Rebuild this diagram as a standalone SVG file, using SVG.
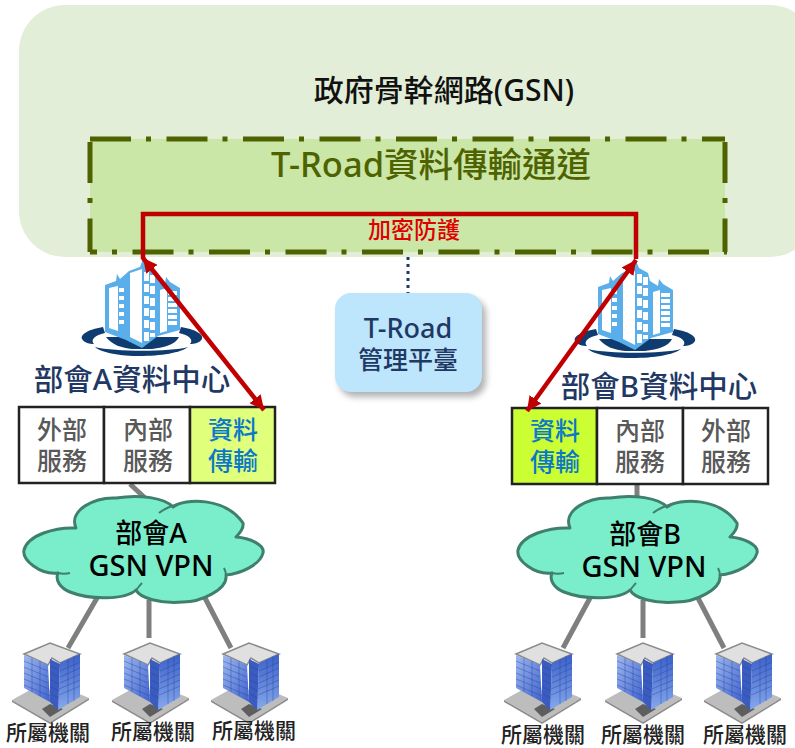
<svg xmlns="http://www.w3.org/2000/svg" xmlns:xlink="http://www.w3.org/1999/xlink" width="795" height="748" viewBox="0 0 795 748">
<style>
text{font-family:"Noto Sans","Noto Sans CJK TC",sans-serif;text-anchor:middle}
.cell{fill:#fff;stroke:#222;stroke-width:2.5}
.svc{font-size:25px;fill:#595959;font-weight:500}
.dx{font-size:25px;fill:#0b78c8;font-weight:500}
.dc{font-size:29.5px;fill:#1f3864;font-weight:500}
.cl{fill:#000;font-weight:500}
.cl1{font-size:27px}
.cl2{font-size:29px}
.org{font-size:21px;fill:#222;font-weight:500}
.gray{stroke:#7f7f7f;stroke-width:5;fill:none}
.red{stroke:#c00000;stroke-width:4.5;fill:none}
.dash{stroke:#4f6200;stroke-width:5;fill:none;stroke-dasharray:41 15 5 15.5}
</style>
<defs>
<marker id="ah" viewBox="0 0 6 6" markerWidth="3.2" markerHeight="3.2" refX="6" refY="3" orient="auto-start-reverse"><path d="M0,0L6,3L0,6Z" fill="#c00000"/></marker>
<filter id="sh" x="-20%" y="-20%" width="140%" height="140%"><feGaussianBlur stdDeviation="3"/></filter>
<linearGradient id="fl" x1="0" y1="0" x2="1" y2="1"><stop offset="0" stop-color="#9db8f0"/><stop offset="1" stop-color="#3f62cc"/></linearGradient>
<linearGradient id="fr" x1="0" y1="0" x2="0" y2="1"><stop offset="0" stop-color="#3a60c8"/><stop offset="1" stop-color="#86a8ec"/></linearGradient>
<g id="cloudp">
<path fill="#7aedca" stroke="#3f7f6b" stroke-width="3" stroke-linejoin="round" d="M76,528C68,510 95,497 116,498C140,494 165,498 173,507C185,498 225,497 243,523C244,528 240,533 236,537C250,538 265,545 263,553C260,565 240,574 226,575C228,590 200,602 183,602C160,604 140,598 136,590C125,600 90,600 70,592C60,588 55,580 58,573C40,575 22,560 24,550C28,535 55,527 76,528Z"/>
<path fill="none" stroke="#3f7f6b" stroke-width="2" d="M159,513C165,508 172,506 178,504M136,590C138,588 140,585 142,583M58,573C62,574 66,574 70,573M226,575C226,573 225,570 224,568"/>
</g>
<g id="dcicon">
<path d="M103,327C90,329 80,334 82,339C84,343 90,344 94,344C90,340 95,335 105,333ZM181,327C194,329 204,334 202,339C200,343 194,344 190,344C194,340 189,335 179,333Z" fill="#0f3c70"/>
<path d="M95,347C115,352 170,352 188,347C175,358 110,360 95,347Z" fill="#0f3c70"/>
<path d="M106,337C112,345 122,348 132,349H152C165,347 175,345 179,337Z" fill="#0f3c70"/>
<path d="M105,285L116,281L117,274L120,279L129,271L140,267L143,259L146,266L155,271L157,279L165,284L166,277L170,282L180,288L180,330L158,336L142,348L126,340L105,332Z" fill="#5aaee9"/>
<path d="M109,288L118,286V331L109,328ZM130,273L142,269V343L130,337ZM160,290L167,288V331L160,333Z" fill="#fff"/>
<path d="M119,296H124V300H119ZM119,304H124V308H119ZM119,312H124V316H119ZM119,320H124V324H119ZM119,288H124V292H119ZM144,272H149V281H144ZM150,275H155V283H150ZM144,284H149V292H144ZM150,286H155V294H150ZM144,296H149V304H144ZM150,298H155V306H150ZM144,308H149V316H144ZM150,310H155V318H150ZM144,320H149V328H144ZM150,322H155V330H150ZM144,332H149V341H144ZM150,333H155V337H150ZM168,291H177V295H168ZM168,297H177V301H168ZM168,303H177V307H168ZM168,309H177V313H168ZM168,315H177V319H168ZM168,321H177V325H168Z" fill="#fff"/>
</g>
<g id="bld">
<path d="M-38,58L-20,48H20L39,56L0,80Z" fill="#bdbdbd"/>
<path d="M-38,58L0,80L39,56L39,58L0,82L-38,60Z" fill="#8d8d8d"/>
<path d="M-8,67L0,62L13,67L0,75Z" fill="#5e5e5e"/>
<path d="M-26,12L0,1L30,12L10,21L2,16L-2,23Z" fill="#e0e0e0" stroke="#8a8a8a" stroke-width="1.5"/>
<path d="M-26,13L-2,23L0,60L-26,46Z" fill="url(#fl)"/>
<path d="M10,21L30,12V55L8,68Z" fill="url(#fr)"/>
<path d="M0,17L10,22L8,68L0,60Z" fill="#3a5cc0"/>
<path d="M-26,19L-2,29M-26,25L-2,35M-26,31L-2,41M-26,37L-1,47M-26,43L0,54M10,29L30,20M10,35L30,26M10,41L30,32M9,47L30,38M9,53L30,44M-18,16V50M-10,19V54M18,17V62M24,14V59M1,24L9,28M1,31L9,35M1,38L9,42M1,45L9,49M1,52L9,56" stroke="#24409a" stroke-opacity=".4" stroke-width="1" fill="none"/>
</g>
</defs>

<g id="gsn">
<rect x="19" y="5" width="797" height="252" rx="46" fill="#e2eed8"/>
<text x="444" y="101" font-size="30" font-weight="500" fill="#111">政府骨幹網路(GSN)</text>
</g>
<g id="troad-channel">
<rect x="90" y="139" width="635" height="113" fill="#cae7a8"/>
<path class="dash" d="M90,139H725"/>
<path class="dash" d="M90,142V252"/>
<path class="dash" d="M725,142V252"/>
<path class="dash" style="stroke-dashoffset:34" d="M90,252H727"/>
<text x="431" y="177" font-size="34.5" font-weight="500" fill="#4f6200">T-Road資料傳輸通道</text>
<text x="414" y="238" font-size="23" font-weight="500" fill="#e00000">加密防護</text>
</g>

<g id="connectors">
<path class="gray" d="M130,484L145,498M97,598L68,648M149,600V638M205,598L231,648"/>
<path class="gray" d="M637,484V500M590,598L563,648M643,600V638M698,598L724,648"/>
<path d="M408,257V293" stroke="#1f3864" stroke-width="3" stroke-dasharray="3 4" fill="none"/>
</g>

<g id="mgmt">
<rect x="339" y="298" width="147" height="99" rx="16" fill="#7f7f7f" opacity=".6" filter="url(#sh)"/>
<rect x="335" y="293" width="147" height="99" rx="16" fill="#bde5fb"/>
<text font-weight="500" fill="#1f3864"><tspan x="408" y="338" font-size="27">T-Road</tspan><tspan x="408" y="369" font-size="25">管理平臺</tspan></text>
</g>

<g id="dc-a">
<use xlink:href="#dcicon"/>
<text x="132" y="390" class="dc">部會A資料中心</text>
</g>
<g id="dc-b">
<use xlink:href="#dcicon" transform="translate(493,2)"/>
<text x="659" y="397" class="dc">部會B資料中心</text>
</g>

<g id="services-a">
<rect class="cell" x="19" y="407" width="85" height="76"/>
<rect class="cell" x="104" y="407" width="86" height="76"/>
<rect class="cell" x="190" y="407" width="85" height="76" style="fill:#e0ff7a"/>
<text class="svc" x="62" y="439">外部</text><text class="svc" x="62" y="470">服務</text>
<text class="svc" x="148" y="439">內部</text><text class="svc" x="148" y="470">服務</text>
<text class="dx" x="233" y="439">資料</text><text class="dx" x="233" y="470">傳輸</text>
</g>
<g id="services-b">
<rect class="cell" x="512" y="408" width="85" height="76" style="fill:#ccff33"/>
<rect class="cell" x="597" y="408" width="86" height="76"/>
<rect class="cell" x="683" y="408" width="85" height="76"/>
<text class="dx" x="555" y="440">資料</text><text class="dx" x="555" y="471">傳輸</text>
<text class="svc" x="640" y="440">內部</text><text class="svc" x="640" y="471">服務</text>
<text class="svc" x="726" y="440">外部</text><text class="svc" x="726" y="471">服務</text>
</g>

<g id="links">
<path class="red" d="M143,259V214H636V259"/>
<path class="red" marker-start="url(#ah)" marker-end="url(#ah)" d="M143,258L264,410"/>
<path class="red" marker-start="url(#ah)" marker-end="url(#ah)" d="M636,260L527,411"/>
</g>

<g id="cloud-a">
<use xlink:href="#cloudp"/>
<text class="cl"><tspan class="cl1" x="151" y="543">部會A</tspan><tspan class="cl2" x="151" y="576">GSN VPN</tspan></text>
</g>
<g id="cloud-b">
<use xlink:href="#cloudp" transform="translate(494,0)"/>
<text class="cl"><tspan class="cl1" x="645" y="544">部會B</tspan><tspan class="cl2" x="644" y="577">GSN VPN</tspan></text>
</g>

<g id="org-a1"><use xlink:href="#bld" x="50" y="642"/><text class="org" x="48" y="740">所屬機關</text></g>
<g id="org-a2"><use xlink:href="#bld" x="150" y="642"/><text class="org" x="153" y="739">所屬機關</text></g>
<g id="org-a3"><use xlink:href="#bld" x="249" y="642"/><text class="org" x="254" y="738">所屬機關</text></g>
<g id="org-b1"><use xlink:href="#bld" x="542" y="642"/><text class="org" x="543" y="741.5">所屬機關</text></g>
<g id="org-b2"><use xlink:href="#bld" x="643" y="642"/><text class="org" x="643" y="741.5">所屬機關</text></g>
<g id="org-b3"><use xlink:href="#bld" x="742" y="642"/><text class="org" x="745" y="741.5">所屬機關</text></g>
</svg>
